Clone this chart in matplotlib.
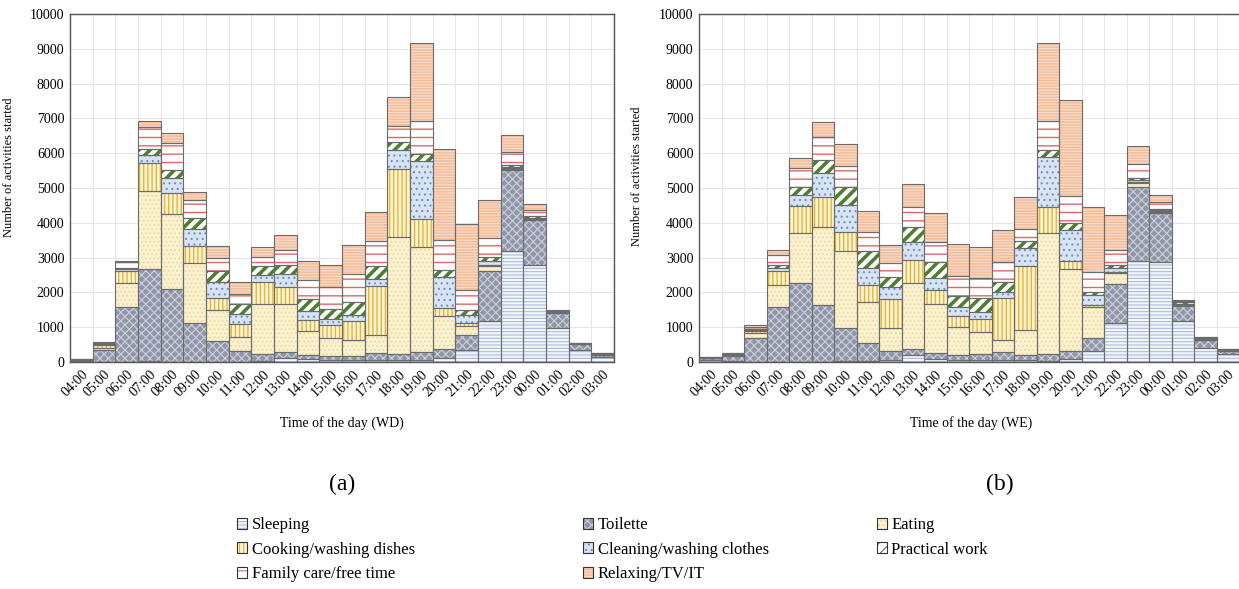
import numpy as np
import matplotlib.pyplot as plt
from matplotlib.patches import Patch
from matplotlib.legend_handler import HandlerTuple

plt.rcParams['font.family'] = ['Liberation Serif', 'DejaVu Serif']
plt.rcParams['hatch.linewidth'] = 0.8

hours = ['04:00', '05:00', '06:00', '07:00', '08:00', '09:00', '10:00', '11:00',
         '12:00', '13:00', '14:00', '15:00', '16:00', '17:00', '18:00', '19:00',
         '20:00', '21:00', '22:00', '23:00', '00:00', '01:00', '02:00', '03:00']

categories = ['Sleeping', 'Toilette', 'Eating', 'Cooking/washing dishes',
              'Cleaning/washing clothes', 'Practical work', 'Family care/free time',
              'Relaxing/TV/IT']

# weekdays (WD)
wd_sleeping = [15, 10, 0, 20, 0, 0, 0, 0, 30, 115, 95, 70, 50, 50, 50, 50,
               115, 355, 1180, 3185, 2780, 980, 335, 145]
wd_toilette = [55, 340, 1580, 2665, 2110, 1130, 605, 315, 190, 175, 115, 95, 115, 220, 190, 240,
               270, 410, 1440, 2330, 1290, 430, 175, 65]
wd_eating = [0, 60, 690, 2235, 2155, 1715, 900, 405, 1460, 1370, 670, 535, 475, 495, 3355, 3020,
             945, 260, 145, 30, 30, 10, 5, 5]
wd_cooking = [0, 70, 350, 805, 605, 480, 345, 380, 620, 500, 320, 355, 540, 1420, 1955, 805,
              235, 95, 20, 20, 20, 5, 5, 5]
wd_cleaning = [0, 20, 65, 220, 405, 510, 450, 290, 210, 360, 265, 190, 160, 210, 555, 1665,
               880, 220, 125, 40, 20, 10, 5, 5]
wd_practical = [5, 30, 30, 190, 255, 315, 315, 290, 240, 280, 355, 290, 385, 365, 205, 210,
                210, 165, 115, 60, 60, 10, 10, 20]
wd_family = [0, 20, 160, 605, 770, 500, 385, 285, 270, 430, 550, 625, 815, 710, 480, 930,
             845, 575, 530, 365, 170, 10, 5, 5]
wd_relaxing = [5, 25, 30, 190, 285, 240, 325, 335, 290, 415, 535, 640, 815, 835, 830, 2255,
               2615, 1880, 1100, 500, 165, 50, 10, 10]

# weekends (WE)
we_sleeping = [70, 30, 0, 0, 0, 0, 30, 30, 50, 190, 95, 60, 60, 50, 50, 30,
               75, 320, 1110, 2890, 2870, 1165, 415, 240]
we_toilette = [40, 130, 685, 1590, 2265, 1650, 945, 510, 270, 175, 155, 140, 160, 240, 150, 190,
               245, 365, 1135, 2130, 1400, 455, 210, 80]
we_eating = [5, 10, 135, 625, 1455, 2230, 2205, 1175, 645, 1910, 1415, 810, 645, 335, 715, 3500,
             2360, 885, 305, 130, 50, 20, 10, 5]
we_cooking = [5, 10, 75, 395, 760, 870, 570, 510, 845, 645, 405, 320, 370, 1215, 1840, 740,
              220, 80, 30, 20, 20, 15, 10, 5]
we_cleaning = [5, 10, 20, 95, 320, 675, 770, 480, 340, 530, 340, 240, 190, 185, 520, 1445,
               905, 285, 120, 60, 20, 20, 10, 10]
we_practical = [15, 50, 30, 90, 220, 385, 500, 485, 305, 415, 460, 320, 405, 270, 195, 195,
                175, 90, 75, 70, 50, 60, 40, 30]
we_family = [5, 15, 60, 270, 550, 655, 625, 550, 385, 595, 580, 575, 590, 575, 365, 815,
             790, 575, 435, 385, 195, 25, 15, 5]
we_relaxing = [5, 15, 60, 160, 295, 425, 615, 585, 530, 665, 820, 925, 885, 935, 915, 2265,
               2745, 1840, 1010, 510, 195, 20, 20, 10]

# fill colour, hatch, hatch colour, hatch line width for each activity
styles = [
    ('#f3f6fb', '-----', '#a9bcdc', 0.8),
    ('#9097a9', 'xxxx', '#cdd1db', 0.8),
    ('#fcf1cf', '....', '#ecdba0', 0.8),
    ('#fdf4d6', '||||', '#e6b535', 1.0),
    ('#d8e3f3', '...', '#6f92cc', 0.8),
    ('#ffffff', '///', '#4e7f31', 2.6),
    ('#ffffff', '--', '#e06666', 1.0),
    ('#f3bf9c', '------', '#fadccb', 0.8),
]
outline = '#6b6b6b'


def hatched(face, hatch, hcol, hlw, **kw):
    with plt.rc_context({'hatch.linewidth': hlw}):
        p = Patch(facecolor=face, hatch=hatch, edgecolor=hcol, linewidth=0, **kw)
    if hasattr(p, 'set_hatch_linewidth'):
        p.set_hatch_linewidth(hlw)
    return p


def stacked(ax, series, xlabel):
    x = np.arange(len(hours))
    bottom = np.zeros(len(hours))
    for vals, (face, hatch, hcol, hlw) in zip(series, styles):
        vals = np.array(vals, dtype=float)
        with plt.rc_context({'hatch.linewidth': hlw}):
            bars = ax.bar(x, vals, 1.0, bottom=bottom, color=face, hatch=hatch,
                          edgecolor=hcol, linewidth=0, zorder=2)
        for b in bars:
            if hasattr(b, 'set_hatch_linewidth'):
                b.set_hatch_linewidth(hlw)
        ax.bar(x, vals, 1.0, bottom=bottom, fill=False, edgecolor=outline,
               linewidth=0.8, zorder=3)
        bottom += vals
    ax.set_xlim(-0.5, len(hours) - 0.5)
    ax.set_ylim(0, 10000)
    ax.set_yticks(range(0, 10001, 1000))
    ax.set_xticks(x)
    ax.set_xticklabels(hours, rotation=45, ha='right', rotation_mode='anchor')
    ax.set_xticks(x[1:] - 0.5, minor=True)
    ax.grid(True, which='major', axis='y', color='#e4e4e4', lw=0.7)
    ax.grid(True, which='minor', axis='x', color='#e4e4e4', lw=0.7)
    ax.set_axisbelow(True)
    ax.tick_params(length=0, which='both', labelsize=10, pad=4)
    for s in ax.spines.values():
        s.set_color('#555555')
        s.set_linewidth(1.0)
    ax.set_xlabel(xlabel, fontsize=10)
    ax.set_ylabel('Number of activities started', fontsize=9)


fig = plt.figure(figsize=(12.39, 5.89), dpi=100)
ax1 = fig.add_axes([70 / 1239, 227 / 589, 544 / 1239, 348 / 589])
ax2 = fig.add_axes([699 / 1239, 227 / 589, 540 / 1239, 348 / 589])

stacked(ax1, [wd_sleeping, wd_toilette, wd_eating, wd_cooking, wd_cleaning,
              wd_practical, wd_family, wd_relaxing], 'Time of the day (WD)')
stacked(ax2, [we_sleeping, we_toilette, we_eating, we_cooking, we_cleaning,
              we_practical, we_family, we_relaxing], 'Time of the day (WE)')
ax2.spines['right'].set_visible(False)
ax1.yaxis.set_label_coords(-0.101, 0.56)
ax2.yaxis.set_label_coords(-0.104, 0.535)
ax1.xaxis.set_label_coords((342 - 70) / 544, -0.155)
ax2.xaxis.set_label_coords((971 - 699) / 540, -0.155)

fig.text(342 / 1239, 1 - 484 / 589, '(a)', fontsize=17, ha='center', va='center')
fig.text(1000 / 1239, 1 - 484 / 589, '(b)', fontsize=17, ha='center', va='center')

# legend: three columns placed side by side
handles = []
for face, hatch, hcol, hlw in styles:
    h1 = hatched(face, hatch, hcol, min(hlw, 1.2))
    h2 = Patch(fill=False, edgecolor='#333333', linewidth=0.8)
    handles.append((h1, h2))

columns = [([0, 3, 6], 237), ([1, 4, 7], 583), ([2, 5], 877)]
for idx, xpix in columns:
    fig.legend([handles[i] for i in idx], [categories[i] for i in idx],
               handler_map={tuple: HandlerTuple(ndivide=1, pad=0)},
               loc='upper left', bbox_to_anchor=(xpix / 1239, 1 - 517 / 589),
               frameon=False, fontsize=12, handlelength=0.62, handleheight=0.62,
               handletextpad=0.25, labelspacing=0.52, borderpad=0, borderaxespad=0)

plt.savefig('out.png', dpi=100)
